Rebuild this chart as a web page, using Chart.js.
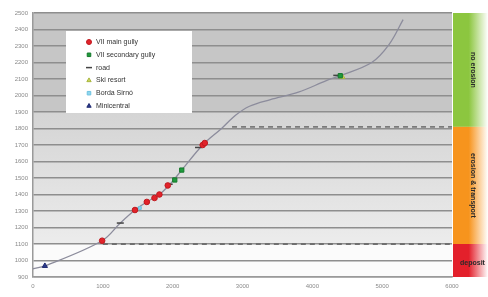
<!DOCTYPE html>
<html>
<head>
<meta charset="utf-8">
<script src="https://cdn.jsdelivr.net/npm/chart.js@4.4.1/dist/chart.umd.min.js"></script>
<style>
  body { margin: 0; background: #fff; }
  #wrap { width: 488px; height: 297px; }
</style>
</head>
<body>
<div id="wrap"><canvas id="c"></canvas></div>
<script>
// profile line (distance m, altitude m)
const profileX = [0, 170, 990, 1250, 1460, 1630, 1810, 1990, 2130, 2430, 2700, 2900, 3100, 3400, 3800, 4200, 4400, 4850, 5100, 5300];
const profileY = [950, 967, 1120, 1227, 1306, 1355, 1400, 1476, 1548, 1700, 1800, 1880, 1935, 1975, 2020, 2090, 2120, 2200, 2310, 2460];

const mainGullyX = [990, 1460, 1630, 1740, 1810, 1930, 2430, 2460];
const mainGullyY = [1120, 1306, 1355, 1379, 1400, 1455, 1700, 1712];
const secGullyX = [2030, 2130, 4400];
const secGullyY = [1488, 1548, 2120];
const roadX = [1250, 1950, 2370, 4350];
const roadY = [1227, 1462, 1685, 2122];
const skiX = [4430];
const skiY = [2112];
const bordaX = [1530];
const bordaY = [1318];
const miniX = [170];
const miniY = [967];

// thresholds (dashed lines)
const upperLimitX = [2850, 6000];
const upperLimitY = [1810, 1810];
const lowerLimitX = [1000, 6000];
const lowerLimitY = [1100, 1100];

const zoneLabels = ['no erosion', 'erosion & transport', 'deposit'];
const zoneTops = [2500, 1810, 1100];
const zoneBottoms = [1810, 1100, 900];

const pts = (xs, ys) => xs.map((x, i) => ({ x: x, y: ys[i] }));

const backgroundPlugin = {
  id: 'bands',
  beforeDraw(chart) {
    const { ctx, chartArea: a, scales: { y } } = chart;
    const y1900 = y.getPixelForValue(1900), y1100 = y.getPixelForValue(1100);
    ctx.save();
    ctx.fillStyle = '#c6c6c6';
    ctx.fillRect(a.left, a.top, a.right - a.left, y1900 - a.top);
    const g = ctx.createLinearGradient(0, y1900, 0, y1100);
    g.addColorStop(0, '#d4d4d4');
    g.addColorStop(1, '#ececec');
    ctx.fillStyle = g;
    ctx.fillRect(a.left, y1900, a.right - a.left, y1100 - y1900);
    ctx.fillStyle = '#fbfbfb';
    ctx.fillRect(a.left, y1100, a.right - a.left, a.bottom - y1100);
    ctx.restore();
  }
};

const zonePlugin = {
  id: 'zones',
  afterDraw(chart) {
    const { ctx, chartArea: a, scales: { y } } = chart;
    const colors = ['#8cc63f', '#f7941d', '#e3202b'];
    const x0 = a.right + 1, x1 = chart.width;
    ctx.save();
    zoneLabels.forEach((lab, i) => {
      const t = y.getPixelForValue(zoneTops[i]), b = y.getPixelForValue(zoneBottoms[i]);
      const g = ctx.createLinearGradient(x0, 0, x1, 0);
      g.addColorStop(0, colors[i]);
      g.addColorStop(0.45, colors[i]);
      g.addColorStop(1, '#ffffff');
      ctx.fillStyle = g;
      ctx.fillRect(x0, t, x1 - x0, b - t);
      ctx.fillStyle = '#2a2a2a';
      ctx.font = 'bold 7px "Liberation Sans", Arial, sans-serif';
      ctx.textAlign = 'center';
      ctx.textBaseline = 'middle';
      if (i === 2) {
        ctx.fillText(lab, (x0 + x1) / 2 + 2, (t + b) / 2 + 3);
      } else {
        ctx.save();
        ctx.translate(x0 + 20, (t + b) / 2);
        ctx.rotate(Math.PI / 2);
        ctx.fillText(lab, 0, 0);
        ctx.restore();
      }
    });
    ctx.restore();
  }
};

const legendPlugin = {
  id: 'boxLegend',
  afterDatasetsDraw(chart) {
    const ctx = chart.ctx;
    const items = chart.data.datasets.filter(d => d.inLegend);
    ctx.save();
    ctx.fillStyle = '#ffffff';
    ctx.fillRect(66, 31, 126, 82);
    ctx.font = '7px "Liberation Sans", Arial, sans-serif';
    ctx.textBaseline = 'middle';
    items.forEach((d, i) => {
      const yy = 42 + i * 12.8;
      ctx.fillStyle = d.pointBackgroundColor;
      ctx.strokeStyle = d.pointBorderColor;
      ctx.lineWidth = d.pointBorderWidth;
      Chart.helpers.drawPoint(ctx, {
        pointStyle: d.pointStyle, radius: d.pointStyle === 'line' ? 3 : 2.5, rotation: 0,
        borderWidth: d.pointBorderWidth
      }, 89, yy);
      ctx.fillStyle = '#333';
      ctx.fillText(d.label, 96, yy);
    });
    ctx.restore();
  }
};

const marker = (label, data, style, fill, stroke, r) => ({
  label: label, data: data, showLine: false, inLegend: true,
  pointStyle: style, pointRadius: r, pointBackgroundColor: fill, pointBorderColor: stroke,
  pointBorderWidth: style === 'line' ? 1.5 : 1, backgroundColor: fill, borderColor: stroke
});

new Chart(document.getElementById('c'), {
  type: 'scatter',
  data: {
    datasets: [
      marker('VII main gully', pts(mainGullyX, mainGullyY), 'circle', '#e2232a', '#c01a20', 2.8),
      marker('VII secondary gully', pts(secGullyX, secGullyY), 'rect', '#1e9b3c', '#15782c', 3),
      marker('road', pts(roadX, roadY), 'line', '#444', '#444', 3.5),
      marker('Ski resort', pts(skiX, skiY), 'triangle', '#c9d65a', '#a9b640', 3),
      marker('Borda Sirnó', pts(bordaX, bordaY), 'rect', '#8fd6ee', '#6fc2e0', 2),
      marker('Minicentral', pts(miniX, miniY), 'triangle', '#2c3a8c', '#1f2a70', 3),
      { label: 'profile', data: pts(profileX, profileY), showLine: true, borderColor: '#8c8c9c',
        borderWidth: 1.3, pointRadius: 0, tension: 0.35, order: 10 },
      { label: 'upper', data: pts(upperLimitX, upperLimitY), showLine: true, borderColor: '#7a7a7a',
        borderWidth: 1.8, borderDash: [5, 4], pointRadius: 0, order: 11 },
      { label: 'lower', data: pts(lowerLimitX, lowerLimitY), showLine: true, borderColor: '#6f6f6f',
        borderWidth: 1.8, borderDash: [5, 4], pointRadius: 0, order: 11 }
    ]
  },
  options: {
    responsive: true,
    maintainAspectRatio: false,
    animation: false,
    layout: { padding: { top: 13, right: 36, left: 0, bottom: 0 } },
    plugins: { legend: { display: false }, tooltip: { enabled: false } },
    scales: {
      x: {
        type: 'linear', min: 0, max: 6000,
        ticks: { stepSize: 1000, color: '#8a8a8a', font: { size: 6 }, padding: 6, callback: v => String(v) },
        grid: { display: false, drawTicks: false },
        border: { color: '#9a9a9a', width: 1.5 },
        afterFit: s => { s.height = 20; }
      },
      y: {
        min: 900, max: 2500,
        ticks: { stepSize: 100, color: '#8a8a8a', font: { size: 6 }, padding: 5, callback: v => String(v) },
        grid: { color: '#8e8e8e', lineWidth: 1.4, drawTicks: false },
        border: { color: '#9a9a9a', width: 1.5 },
        afterFit: s => { s.width = 33; }
      }
    }
  },
  plugins: [backgroundPlugin, legendPlugin, zonePlugin]
});
</script>
</body>
</html>
